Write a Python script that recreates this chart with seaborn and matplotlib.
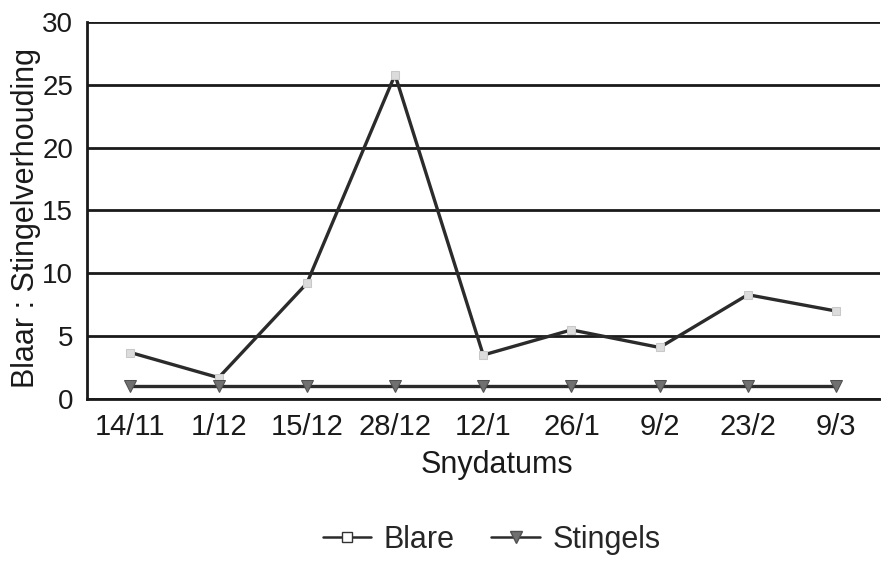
import matplotlib
matplotlib.use('Agg')
import matplotlib.pyplot as plt
from matplotlib.lines import Line2D
from matplotlib.ticker import MultipleLocator
import seaborn as sns
import pandas as pd

dates = ['14/11', '1/12', '15/12', '28/12', '12/1', '26/1', '9/2', '23/2', '9/3']
blare = [3.7, 1.7, 9.2, 25.8, 3.5, 5.5, 4.1, 8.3, 7.0]
stingels = [1.0, 1.0, 1.0, 1.0, 1.0, 1.0, 1.0, 1.0, 1.0]

df = pd.DataFrame({'datum': dates, 'Blare': blare, 'Stingels': stingels})

sns.set_style('white')
plt.rcParams['font.family'] = ['Liberation Sans', 'DejaVu Sans']

fig = plt.figure(figsize=(8.81, 5.62), dpi=100)
ax = fig.add_axes([0.099, 0.29, 0.9, 0.671])

line_col = '#2b2b2b'
sns.lineplot(data=df, x='datum', y='Blare', sort=False, ax=ax, color=line_col,
             linewidth=2.4, marker='s', markersize=6, markerfacecolor='#dcdcdc',
             markeredgecolor='#c8c8c8', zorder=4)
sns.lineplot(data=df, x='datum', y='Stingels', sort=False, ax=ax, color=line_col,
             linewidth=2.4, marker='v', markersize=9, markerfacecolor='#707070',
             markeredgecolor='#505050', zorder=4)

ax.set_ylim(0, 30)
ax.set_xlim(-0.49, len(dates) - 0.5)
ax.yaxis.set_major_locator(MultipleLocator(5))
ax.yaxis.set_minor_locator(MultipleLocator(2.5))
ax.grid(axis='y', which='major', color='#1a1a1a', linewidth=2.0)
ax.set_axisbelow(True)

for s in ['top', 'right']:
    ax.spines[s].set_visible(False)
for s in ['left', 'bottom']:
    ax.spines[s].set_color('#1a1a1a')
    ax.spines[s].set_linewidth(2.0)

ax.tick_params(axis='y', which='major', direction='out', length=9, width=2,
               color='#1a1a1a', labelsize=20, pad=1)
ax.tick_params(axis='y', which='minor', direction='inout', length=7, width=1.5,
               color='#1a1a1a')
ax.tick_params(axis='x', which='major', direction='inout', length=16, width=2,
               color='#1a1a1a', labelsize=21, pad=2)
ax.tick_params(labelcolor='#1a1a1a')

ax.set_xlabel('Snydatums', fontsize=22, color='#1a1a1a')
ax.xaxis.set_label_coords(0.517, -0.135)
ax.set_ylabel('Blaar : Stingelverhouding', fontsize=22, color='#1a1a1a')
ax.yaxis.set_label_coords(-0.058, 0.48)

handles = [
    Line2D([], [], color=line_col, linewidth=1.8, marker='s', markersize=7,
           markerfacecolor='white', markeredgecolor='#333333'),
    Line2D([], [], color=line_col, linewidth=1.8, marker='v', markersize=8,
           markerfacecolor='#707070', markeredgecolor='#505050'),
]
fig.legend(handles, ['Blare', 'Stingels'], loc='center', bbox_to_anchor=(0.558, 0.04),
           ncol=2, frameon=False, fontsize=22, handlelength=1.6, columnspacing=1.2,
           handletextpad=0.4)

fig.savefig('out.png', dpi=100, facecolor='white')
